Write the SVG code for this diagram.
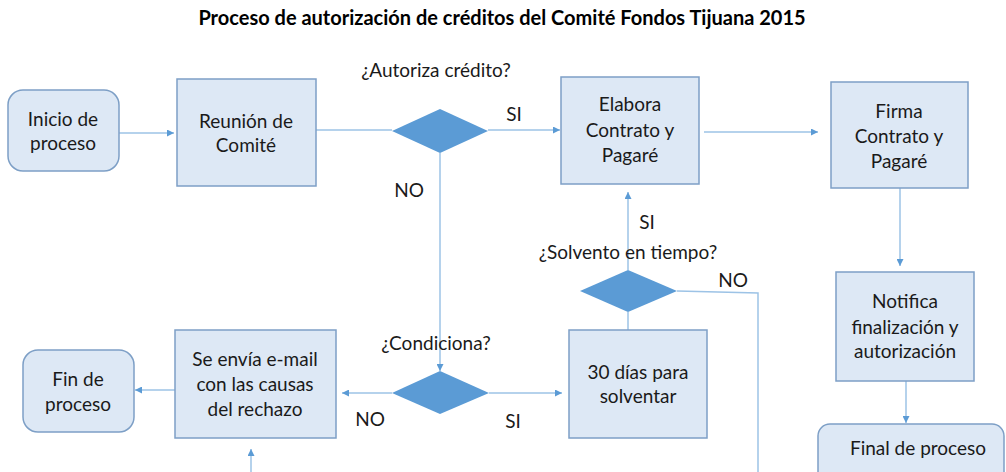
<svg xmlns="http://www.w3.org/2000/svg" width="1006" height="472" viewBox="0 0 1006 472">
<defs>
<style>
.bg{fill:#ffffff}
.box{fill:#dde8f5;stroke:#7d9fc6;stroke-width:1.5}
.dia{fill:#5b9bd5;stroke:none}
.t{font-family:Lato,"Open Sans","Liberation Sans",sans-serif;font-size:19px;fill:#1a1a1a;text-anchor:middle}
.title{font-family:Lato,"Open Sans","Liberation Sans",sans-serif;font-size:20px;font-weight:bold;fill:#000;text-anchor:middle}
.c{fill:none;stroke:#9dc3e6;stroke-width:1.5}
</style>
<marker id="ah" viewBox="0 0 10 10" refX="10" refY="5" markerWidth="7" markerHeight="7" markerUnits="userSpaceOnUse" orient="auto">
<path d="M0,0 L10,5 L0,10 z" fill="#5b9bd5"/>
</marker>
</defs>
<rect class="bg" x="0" y="0" width="1006" height="472"/>
<text class="title" x="502" y="25">Proceso de autorización de créditos del Comité Fondos Tijuana 2015</text>

<g id="connectors">
<line class="c" x1="119" y1="133" x2="174" y2="133" marker-end="url(#ah)"/>
<line class="c" x1="316" y1="130" x2="392" y2="130"/>
<line class="c" x1="488" y1="130" x2="560" y2="130" marker-end="url(#ah)"/>
<line class="c" x1="704" y1="132" x2="818" y2="132" marker-end="url(#ah)"/>
<line class="c" x1="440" y1="153" x2="440" y2="371" marker-end="url(#ah)"/>
<line class="c" x1="900" y1="188" x2="900" y2="266" marker-end="url(#ah)"/>
<line class="c" x1="906" y1="381" x2="906" y2="423" marker-end="url(#ah)"/>
<line class="c" x1="628" y1="270" x2="628" y2="192" marker-end="url(#ah)"/>
<polyline class="c" points="677,291 758,293 758,472"/>
<line class="c" x1="628" y1="312" x2="628" y2="330"/>
<line class="c" x1="489" y1="393" x2="562" y2="393" marker-end="url(#ah)"/>
<line class="c" x1="392" y1="393" x2="342" y2="393" marker-end="url(#ah)"/>
<line class="c" x1="175" y1="390" x2="135" y2="390" marker-end="url(#ah)"/>
<line class="c" x1="251" y1="472" x2="251" y2="449" marker-end="url(#ah)"/>
</g>

<g id="inicio">
<rect class="box" x="8" y="90" width="111" height="81" rx="15"/>
<text class="t" x="63" y="126">Inicio de</text>
<text class="t" x="63" y="150">proceso</text>
</g>
<g id="reunion">
<rect class="box" x="177" y="79" width="139" height="107"/>
<text class="t" x="246" y="128">Reunión de</text>
<text class="t" x="246" y="152">Comité</text>
</g>
<g id="autoriza">
<polygon class="dia" points="440,109 488,131 440,153 392,131"/>
<text class="t" x="436" y="77">¿Autoriza crédito?</text>
<text class="t" x="514" y="121">SI</text>
<text class="t" x="409" y="197">NO</text>
</g>
<g id="elabora">
<rect class="box" x="561" y="77" width="138" height="107"/>
<text class="t" x="630" y="111">Elabora</text>
<text class="t" x="630" y="137">Contrato y</text>
<text class="t" x="630" y="162">Pagaré</text>
</g>
<g id="firma">
<rect class="box" x="831" y="82" width="137" height="106"/>
<text class="t" x="899" y="118">Firma</text>
<text class="t" x="899" y="143">Contrato y</text>
<text class="t" x="899" y="168">Pagaré</text>
</g>
<g id="solvento">
<polygon class="dia" points="628,270 677,291 628,312 580,291"/>
<text class="t" x="628" y="259">¿Solvento en tiempo?</text>
<text class="t" x="647" y="229">SI</text>
<text class="t" x="733" y="287">NO</text>
</g>
<g id="notifica">
<rect class="box" x="836" y="272" width="138" height="109"/>
<text class="t" x="905" y="308">Notifica</text>
<text class="t" x="905" y="334">finalización y</text>
<text class="t" x="905" y="358">autorización</text>
</g>
<g id="final">
<rect class="box" x="818" y="424" width="186" height="60" rx="12"/>
<text class="t" x="918" y="455">Final de proceso</text>
</g>
<g id="dias">
<rect class="box" x="569" y="330" width="138" height="108"/>
<text class="t" x="638" y="379">30 días para</text>
<text class="t" x="638" y="403">solventar</text>
</g>
<g id="condiciona">
<polygon class="dia" points="440,371 489,393 440,414 392,393"/>
<text class="t" x="436" y="350">¿Condiciona?</text>
<text class="t" x="513" y="428">SI</text>
<text class="t" x="370" y="426">NO</text>
</g>
<g id="envia">
<rect class="box" x="175" y="330" width="161" height="108"/>
<text class="t" x="255" y="366">Se envía e-mail</text>
<text class="t" x="255" y="391">con las causas</text>
<text class="t" x="255" y="416">del rechazo</text>
</g>
<g id="fin">
<rect class="box" x="23" y="350" width="111" height="82" rx="15"/>
<text class="t" x="78" y="386">Fin de</text>
<text class="t" x="78" y="411">proceso</text>
</g>
</svg>
